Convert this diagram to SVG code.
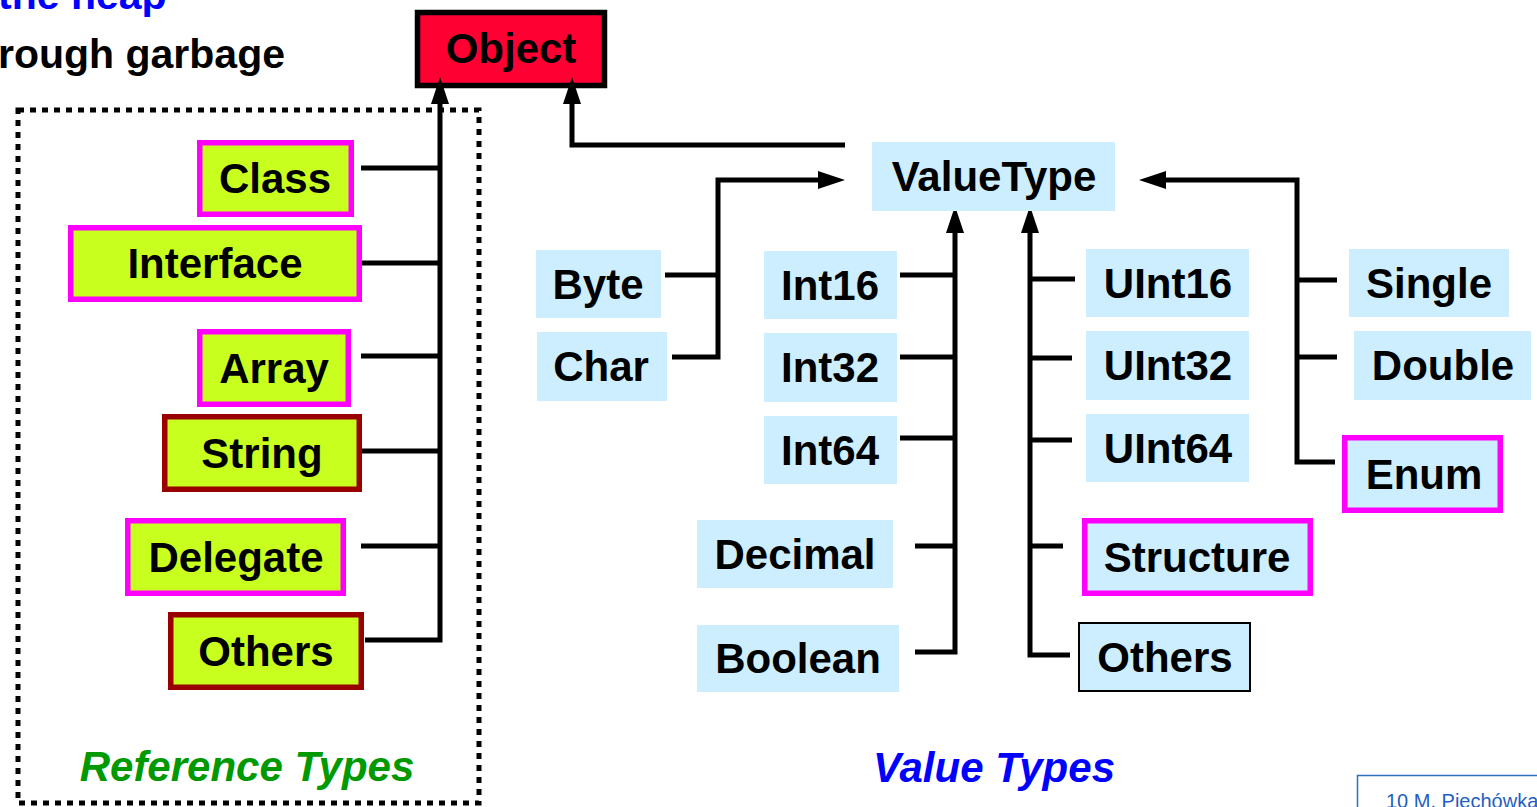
<svg xmlns="http://www.w3.org/2000/svg" width="1537" height="807" viewBox="0 0 1537 807">
<style>
text{font-family:"Liberation Sans",Arial,sans-serif;font-weight:bold;font-size:42px;fill:#000;text-anchor:middle}
.ref{fill:#c9ff1f;stroke-width:5.5}
.mag{stroke:#ff00ff}
.dred{stroke:#990000}
.val{fill:#cceeff;stroke:none}
.conn{fill:none;stroke:#000;stroke-width:5;stroke-linejoin:miter}
</style>
<defs>
<marker id="ah" markerUnits="userSpaceOnUse" markerWidth="27" markerHeight="18" refX="1" refY="9" orient="auto">
<path d="M0,0 L27,9 L0,18 z" fill="#000"/>
</marker>
</defs>
<rect width="1537" height="807" fill="#fff"/>
<text x="-2" y="9" style="font-size:41px;fill:#0000ff;text-anchor:start">the heap</text>
<text x="-2" y="68" style="font-size:41px;text-anchor:start">rough garbage</text>
<rect x="18" y="110" width="461" height="693" fill="none" stroke="#000" stroke-width="5" stroke-dasharray="6 6"/>
<g id="object">
<rect x="417.5" y="12.5" width="187" height="73" fill="#ff0033" stroke="#000" stroke-width="5.5"/>
<text x="511" y="63">Object</text>
</g>
<g id="connectors">
<path class="conn" d="M365,640 H440 V103" marker-end="url(#ah)"/>
<path class="conn" d="M361,168 H440 M361,263 H440 M361,356 H440 M361,451 H440 M361,546 H440"/>
<path class="conn" d="M845,145 H572 V103" marker-end="url(#ah)"/>
<path class="conn" d="M665,275 H718"/>
<path class="conn" d="M672,357 H718 V180 H819" marker-end="url(#ah)"/>
<path class="conn" d="M915,652 H955 V232" marker-end="url(#ah)"/>
<path class="conn" d="M900,275 H955 M900,357 H955 M900,438 H955 M915,546 H955"/>
<path class="conn" d="M1070,655 H1030 V232" marker-end="url(#ah)"/>
<path class="conn" d="M1030,279 H1075 M1030,358 H1072 M1030,440 H1072 M1030,546 H1063"/>
<path class="conn" d="M1335,462 H1297 V180 H1165" marker-end="url(#ah)"/>
<path class="conn" d="M1297,280 H1337 M1297,357 H1337"/>
</g>
<g id="class"><rect class="ref mag" x="199.75" y="142.75" width="151.5" height="71.5"/><text x="275" y="193">Class</text></g>
<g id="interface"><rect class="ref mag" x="70.75" y="227.75" width="288.5" height="71.5"/><text x="215" y="278">Interface</text></g>
<g id="array"><rect class="ref mag" x="199.75" y="331.75" width="148.5" height="72.5"/><text x="274" y="383">Array</text></g>
<g id="string"><rect class="ref dred" x="164.75" y="416.75" width="194.5" height="72.5"/><text x="262" y="468">String</text></g>
<g id="delegate"><rect class="ref mag" x="127.75" y="520.75" width="215.5" height="72.5"/><text x="236" y="572">Delegate</text></g>
<g id="others-ref"><rect class="ref dred" x="170.75" y="614.75" width="190.5" height="72.5"/><text x="266" y="666">Others</text></g>
<text x="247" y="781" style="fill:#009900;font-style:italic">Reference Types</text>
<g id="valuetype"><rect class="val" x="872" y="142" width="243" height="69"/><text x="994" y="191">ValueType</text></g>
<g id="byte"><rect class="val" x="536" y="250" width="125" height="68"/><text x="598" y="299">Byte</text></g>
<g id="char"><rect class="val" x="537" y="332" width="130" height="69"/><text x="601" y="381">Char</text></g>
<g id="int16"><rect class="val" x="764" y="251" width="133" height="68"/><text x="830" y="300">Int16</text></g>
<g id="int32"><rect class="val" x="764" y="333" width="133" height="69"/><text x="830" y="382">Int32</text></g>
<g id="int64"><rect class="val" x="764" y="416" width="133" height="68"/><text x="830" y="465">Int64</text></g>
<g id="decimal"><rect class="val" x="697" y="520" width="196" height="68"/><text x="795" y="569">Decimal</text></g>
<g id="boolean"><rect class="val" x="697" y="625" width="202" height="67"/><text x="798" y="673">Boolean</text></g>
<g id="uint16"><rect class="val" x="1086" y="249" width="163" height="68"/><text x="1168" y="298">UInt16</text></g>
<g id="uint32"><rect class="val" x="1086" y="331" width="163" height="69"/><text x="1168" y="380">UInt32</text></g>
<g id="uint64"><rect class="val" x="1086" y="414" width="163" height="68"/><text x="1168" y="463">UInt64</text></g>
<g id="structure"><rect x="1084.75" y="520.75" width="225.5" height="72.5" fill="#cceeff" stroke="#ff00ff" stroke-width="5.5"/><text x="1197" y="572">Structure</text></g>
<g id="others-val"><rect x="1079" y="623" width="171" height="68" fill="#cceeff" stroke="#000" stroke-width="2"/><text x="1165" y="672">Others</text></g>
<g id="single"><rect class="val" x="1349" y="249" width="160" height="68"/><text x="1429" y="298">Single</text></g>
<g id="double"><rect class="val" x="1354" y="331" width="177" height="69"/><text x="1443" y="380">Double</text></g>
<g id="enum"><rect x="1344.75" y="437.75" width="155.5" height="72.5" fill="#cceeff" stroke="#ff00ff" stroke-width="5.5"/><text x="1424" y="489">Enum</text></g>
<text x="994" y="782" style="fill:#0000ff;font-style:italic">Value Types</text>
<rect x="1357.5" y="775.5" width="200" height="50" fill="#fff" stroke="#2f6fc0" stroke-width="1.5"/>
<text x="1386" y="808" style="font-weight:normal;font-size:20px;fill:#1f5fbf;text-anchor:start">10 M. Piechówka</text>
</svg>
